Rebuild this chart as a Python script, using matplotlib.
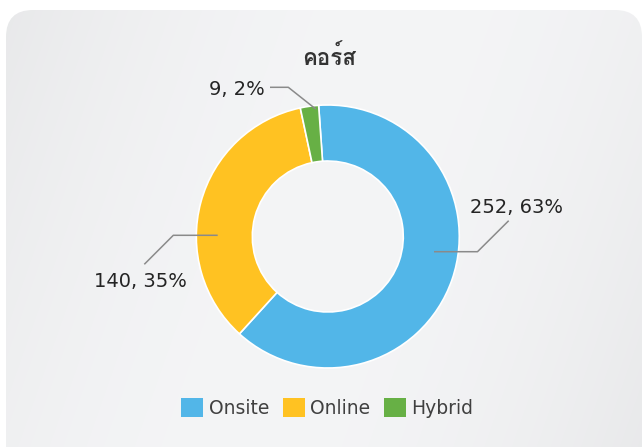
import numpy as np
import matplotlib
matplotlib.use("Agg")
from matplotlib import pyplot as plt
from matplotlib import font_manager
from matplotlib.ft2font import FT2Font
from matplotlib.patches import FancyBboxPatch, Patch

# data
title = "คอร์ส"
categories = ["Onsite", "Online", "Hybrid"]
counts = [252, 140, 9]
colors = ["#52B6E8", "#FFC222", "#67B045"]


def find_thai_font():
    # first installed family that has Thai glyphs
    for f in font_manager.fontManager.ttflist:
        try:
            if 0x0E04 in FT2Font(f.fname).get_charmap():
                return f.name
        except Exception:
            pass
    return None


thai = find_thai_font()
thai_fams = ["DejaVu Sans"] if thai is None else [thai, "DejaVu Sans"]

W, H = 643, 447
fig = plt.figure(figsize=(W / 100, H / 100), dpi=100)
ax = fig.add_axes([0, 0, 1, 1])


def P(x, y):
    # pixel coords of the picture (y down) -> axes data (y up)
    return x, H - y


# rounded card with a soft gradient
card = FancyBboxPatch(P(6, 480), 636, 470, boxstyle="round,pad=0,rounding_size=27",
                      facecolor="none", edgecolor="none")
ax.add_patch(card)
yy, xx = np.mgrid[0:H, 0:W]
d = (xx - 330 + 0.35 * (yy - 220)) / 420.0
g = 244 - 13 * np.clip(d ** 2, 0, 1)
img = np.dstack([g, g + 0.6, g + 2.0]) / 255.0
im = ax.imshow(np.clip(img, 0, 1), extent=(0, W, 0, H), origin="upper", zorder=0)
im.set_clip_path(card)

# donut
R = 131.5
cx, cy = P(327.8, 236.5)
wedges, _ = ax.pie(counts, colors=colors, startangle=94, counterclock=False,
                   radius=R, center=(cx, cy),
                   wedgeprops=dict(width=R * 0.426, edgecolor="white", linewidth=1.2))
for w in wedges:
    w.set_zorder(2)

ax.set_xlim(0, W)
ax.set_ylim(0, H)
ax.set_aspect("equal")
ax.axis("off")

# labels + leader lines
total = sum(counts)
labels = [f"{v}, {round(100 * v / total)}%" for v in counts]
label_pos = [(516, 212.7), (140, 287.3), (236.5, 95)]
leaders = [
    [(434, 251.7), (477.5, 251.7), (508.7, 220.7)],
    [(217.7, 235.3), (173.3, 235.3), (144.3, 264.3)],
    [(315.7, 109), (288.3, 87.3), (270, 87.3)],
]
for lab, pos, pts in zip(labels, label_pos, leaders):
    xs, ys = zip(*[P(*p) for p in pts])
    ax.plot(xs, ys, color="#8a8a8a", lw=1.1, zorder=3, solid_capstyle="butt")
    ax.text(*P(*pos), lab, ha="center", va="baseline", fontsize=14,
            color="#242424", family="DejaVu Sans", zorder=4)

ax.text(*P(329, 65), title, ha="center", va="baseline", fontsize=16,
        fontweight="semibold", color="#333333", family=thai_fams, zorder=4)

# legend
handles = [Patch(facecolor=c, edgecolor="none") for c in colors]
leg = ax.legend(handles, categories, loc="center", bbox_to_anchor=(327.5 / W, 1 - 408 / H),
                ncol=3, frameon=False, fontsize=13.5, handlelength=1.15, handleheight=1.2,
                handletextpad=0.3, columnspacing=0.75, borderaxespad=0)
for t in leg.get_texts():
    t.set_color("#404040")
    t.set_family("DejaVu Sans")

fig.savefig("out.png", dpi=100, facecolor="white")
